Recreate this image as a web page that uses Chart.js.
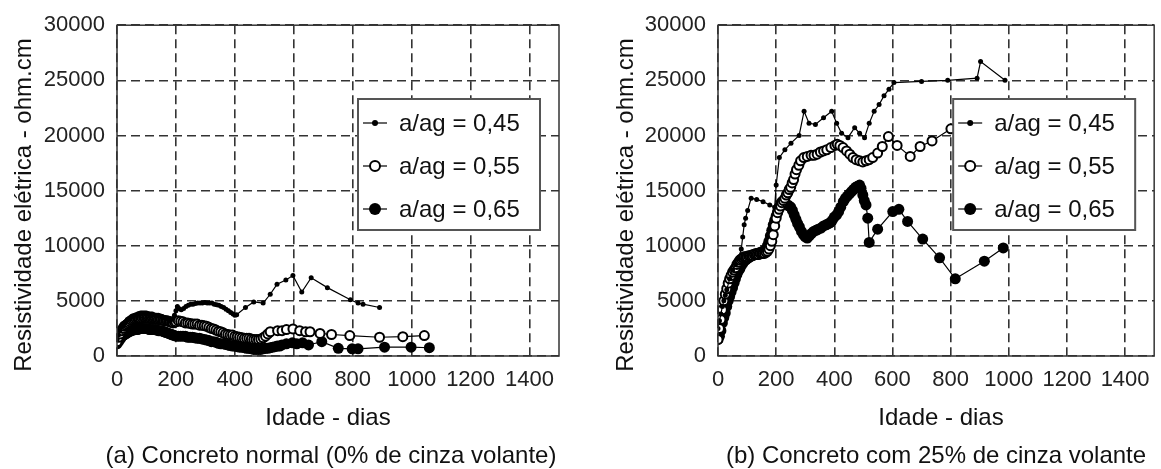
<!DOCTYPE html>
<html>
<head>
<meta charset="utf-8">
<script src="https://cdn.jsdelivr.net/npm/chart.js@4.4.1/dist/chart.umd.min.js"></script>
<style>
  body { margin: 0; background: #fff; }
  #wrap { position: relative; width: 1161px; height: 469px; background: #fff; overflow: hidden; }
  #boxA { position: absolute; left: 0; top: 0; }
  #boxB { position: absolute; left: 580px; top: 0; }
</style>
</head>
<body>
<div id="wrap">
  <div id="boxA"><canvas id="chartA" width="580" height="469"></canvas></div>
  <div id="boxB"><canvas id="chartB" width="581" height="469"></canvas></div>
</div>
<script>
// labels
const seriesLabels = ['a/ag = 0,45', 'a/ag = 0,55', 'a/ag = 0,65'];
const xTitle = 'Idade - dias';
const yTitle = 'Resistividade elétrica - ohm.cm';
const captionA = '(a) Concreto normal (0% de cinza volante)';
const captionB = '(b) Concreto com 25% de cinza volante';

// (a) concreto normal
const daysA45 = [0,5,10,15,20,25,30,35,40,45,
    50,55,60,65,70,75,80,85,90,95,
    100,105,110,115,120,125,130,135,140,145,
    150,155,160,165,170,175,180,185,190,195,
    200,205,210,218,226,234,242,250,258,266,
    274,282,290,298,306,314,322,330,338,346,
    354,362,370,378,386,394,400,406,436,464,
    496,520,543,573,597,627,659,714,792,818,
    835,891];
const resA45 = [1500,1900,2300,2600,2800,3000,3100,3300,3400,3500,
    3600,3650,3700,3750,3800,3850,3900,3900,3900,3900,
    3900,3850,3800,3800,3800,3750,3700,3700,3700,3650,
    3600,3550,3500,3450,3400,3350,3300,3300,3400,3700,
    4100,4500,4300,4200,4300,4500,4600,4700,4700,4750,
    4800,4800,4800,4850,4800,4800,4800,4700,4650,4600,
    4500,4400,4250,4100,3950,3800,3700,3750,4400,4900,
    4800,5600,6500,6900,7300,5800,7100,6200,5100,4800,
    4700,4400];

const daysA55 = [0,5,10,15,20,25,30,35,40,45,
    50,55,60,65,70,75,80,85,90,95,
    100,105,110,115,120,125,130,135,140,145,
    150,155,160,165,170,175,180,185,190,195,
    200,208,216,224,232,240,248,256,264,272,
    280,288,296,304,312,320,328,336,344,352,
    360,368,376,384,392,400,408,416,424,432,
    440,448,456,464,472,480,488,496,504,512,
    520,545,560,575,597,620,640,655,689,728,
    790,891,970,1043];
const resA55 = [1300,1700,2000,2300,2500,2700,2800,2900,3000,3100,
    3200,3250,3300,3350,3400,3400,3400,3450,3500,3500,
    3500,3450,3400,3400,3400,3400,3400,3350,3300,3300,
    3300,3250,3200,3200,3200,3150,3100,3050,3000,3050,
    3100,3200,3150,3100,3000,3000,2950,2900,2900,2900,
    2800,2800,2750,2700,2600,2500,2450,2350,2250,2200,
    2100,2000,1950,1900,1900,1800,1750,1700,1650,1600,
    1600,1600,1550,1500,1500,1500,1550,1650,1800,2000,
    2200,2300,2300,2400,2450,2300,2200,2200,2050,1950,
    1850,1700,1750,1850];

const daysA65 = [0,5,10,15,20,25,30,35,40,45,
    50,55,60,65,70,75,80,85,90,95,
    100,105,110,115,120,125,130,135,140,145,
    150,155,160,165,170,175,180,185,190,195,
    200,208,216,224,232,240,248,256,264,272,
    280,288,296,304,312,320,328,336,344,352,
    360,368,376,384,392,400,408,416,424,432,
    440,448,456,464,472,480,488,496,504,512,
    520,528,536,544,552,560,575,595,610,630,
    650,695,751,798,818,908,998,1060];
const resA65 = [1100,1300,1500,1700,1850,1950,2000,2100,2200,2250,
    2300,2350,2400,2400,2400,2450,2500,2500,2500,2500,
    2500,2450,2400,2400,2400,2400,2400,2350,2300,2300,
    2300,2250,2200,2150,2100,2050,2000,1950,1900,1850,
    1800,1800,1800,1800,1800,1700,1700,1700,1650,1600,
    1600,1550,1500,1450,1400,1300,1300,1250,1150,1100,
    1100,1050,1000,950,900,900,850,800,800,750,
    700,700,650,600,600,600,600,650,700,700,
    750,800,850,900,900,1000,1100,1200,1100,1200,
    1000,1300,700,650,650,800,800,750];

// (b) concreto com 25% de cinza volante
const daysB45 = [0,5,10,15,20,25,30,40,50,60,
    70,80,85,90,95,102,114,133,155,178,
    195,200,211,230,251,279,296,313,335,363,
    391,408,425,447,470,487,504,520,537,554,
    571,588,605,700,790,891,903,987];
const resB45 = [2500,3200,3800,4500,5000,5500,6000,7000,7800,8300,
    8800,9700,10800,11900,12500,13200,14300,14200,14000,13700,
    13500,15500,18000,18700,19300,20000,22200,21100,21000,21600,
    22200,21100,20200,19800,20700,20200,19800,21100,22200,22800,
    23600,24200,24800,24900,25000,25200,26700,25000];

const daysB55 = [0,5,10,15,20,25,30,35,40,45,
    50,55,60,65,70,75,80,85,90,95,
    100,105,110,115,120,125,130,135,140,145,
    150,155,160,165,170,175,180,185,190,195,
    200,205,210,215,220,225,230,235,240,245,
    250,255,260,265,270,278,284,295,307,320,
    330,341,352,363,374,388,402,410,419,430,
    442,453,464,475,487,498,509,520,532,549,
    565,586,616,661,695,736,801];
const resB55 = [1500,2500,3300,4200,5000,5600,6100,6600,7000,7300,
    7600,7800,8000,8300,8500,8700,8800,8900,9000,9000,
    9000,9100,9100,9100,9100,9200,9200,9200,9200,9300,
    9300,9300,9300,9400,9500,9700,10000,10400,11000,11800,
    12500,13000,13300,13600,13900,14100,14300,14600,14800,15100,
    15300,15700,16000,16500,16900,17300,17700,18000,18100,18200,
    18200,18300,18500,18600,18700,18900,19100,19200,19100,18900,
    18600,18300,18000,17800,17700,17600,17700,17800,18000,18400,
    19000,19900,19100,18100,19000,19500,20600];

const daysB65 = [0,5,10,15,20,25,30,35,40,45,
    50,55,60,65,70,75,80,85,90,95,
    100,105,110,115,120,125,130,135,140,145,
    150,155,160,165,170,175,180,185,190,195,
    200,205,210,215,220,225,230,235,240,245,
    250,256,262,268,274,280,287,294,300,307,
    314,321,329,337,345,354,363,372,380,386,
    393,400,408,415,422,431,438,445,452,459,
    466,473,480,487,492,498,503,509,515,520,
    549,601,622,652,704,762,816,916,981];
const resB65 = [1500,1800,2300,3000,3500,3900,4500,5000,5400,5800,
    6200,6600,7000,7400,7700,7900,8200,8400,8600,8700,
    8800,8900,9000,9100,9200,9200,9300,9300,9300,9400,
    9400,9500,9500,9700,10000,10400,10900,11400,11900,12300,
    12700,13100,13500,13800,14000,13900,13800,13700,13700,13600,
    13500,13200,12800,12400,12000,11700,11300,11000,10800,10700,
    10900,11100,11300,11400,11500,11600,11800,11900,12000,12100,
    12300,12600,12800,13100,13500,14000,14300,14500,14700,14900,
    15100,15300,15400,15500,15200,14600,14100,13700,12500,10300,
    11500,13100,13300,12200,10600,8900,7000,8600,9800];

Chart.defaults.font.family = '"Liberation Sans", Arial, sans-serif';
Chart.defaults.font.size = 22;
Chart.defaults.color = '#222';

function to_points(days, vals) {
    return days.map((d, i) => ({ x: d, y: vals[i] }));
}

// marker styles for the three series
const markerStyles = [
    { pointRadius: 2.5, pointBackgroundColor: '#000', pointBorderWidth: 0 },
    { pointRadius: 4.5, pointBackgroundColor: '#fff', pointBorderWidth: 2 },
    { pointRadius: 5.5, pointBackgroundColor: '#000', pointBorderWidth: 0 }
];

function make_dataset(i, days, vals) {
    return Object.assign({
        label: seriesLabels[i],
        data: to_points(days, vals),
        borderColor: '#000',
        pointBorderColor: '#000',
        borderWidth: 1.2,
        pointStyle: 'circle'
    }, markerStyles[i]);
}

// box round the plot area
const frame = {
    id: 'frame',
    afterDraw(chart) {
        const ctx = chart.ctx, a = chart.chartArea;
        ctx.save();
        ctx.strokeStyle = '#333';
        ctx.lineWidth = 1.5;
        ctx.strokeRect(a.left, a.top, a.right - a.left, a.bottom - a.top);
        ctx.restore();
    }
};

// legend inside the plot, drawn from the datasets
const legendBox = {
    id: 'legendBox',
    afterDraw(chart) {
        const ctx = chart.ctx, a = chart.chartArea;
        const w = 182, h = 131;
        const left = a.right - 19 - w, top = 99;
        ctx.save();
        ctx.fillStyle = '#fff';
        ctx.fillRect(left, top, w, h);
        ctx.strokeStyle = '#555';
        ctx.lineWidth = 2;
        ctx.strokeRect(left, top, w, h);
        ctx.font = '24px "Liberation Sans", Arial, sans-serif';
        ctx.textBaseline = 'middle';
        ctx.textAlign = 'left';
        chart.data.datasets.forEach((ds, i) => {
            const y = top + 24 + i * 43;
            ctx.strokeStyle = '#000';
            ctx.lineWidth = 1.2;
            ctx.beginPath();
            ctx.moveTo(left + 5, y);
            ctx.lineTo(left + 29, y);
            ctx.stroke();
            ctx.beginPath();
            ctx.arc(left + 17, y, ds.pointRadius + 0.5, 0, Math.PI * 2);
            ctx.fillStyle = ds.pointBackgroundColor;
            ctx.fill();
            if (ds.pointBorderWidth) {
                ctx.lineWidth = ds.pointBorderWidth;
                ctx.stroke();
            }
            ctx.fillStyle = '#111';
            ctx.fillText(ds.label, left + 41, y + 1);
        });
        ctx.restore();
    }
};

// axis titles and caption
const chartTexts = {
    id: 'chartTexts',
    afterDraw(chart, args, opts) {
        const ctx = chart.ctx;
        ctx.save();
        ctx.fillStyle = '#111';
        ctx.font = '24px "Liberation Sans", Arial, sans-serif';
        ctx.textAlign = 'center';
        ctx.textBaseline = 'alphabetic';
        ctx.fillText(xTitle, opts.xTitleX, 425);
        ctx.fillText(opts.caption, opts.captionX, 463);
        ctx.translate(opts.yTitleX, 205);
        ctx.rotate(-Math.PI / 2);
        ctx.fillText(yTitle, 0, 0);
        ctx.restore();
    }
};

function make_chart(canvasId, sets, yAxisWidth, texts) {
    const datasets = sets.map((s, i) => make_dataset(i, s[0], s[1]));
    return new Chart(document.getElementById(canvasId), {
        type: 'line',
        data: { datasets: datasets },
        plugins: [frame, legendBox, chartTexts],
        options: {
            responsive: false,
            animation: false,
            devicePixelRatio: 1,
            layout: { padding: { left: 0, right: texts.padRight, top: 25, bottom: 0 } },
            plugins: {
                legend: { display: false },
                tooltip: { enabled: false },
                chartTexts: texts
            },
            scales: {
                x: {
                    type: 'linear',
                    min: 0,
                    max: 1500,
                    ticks: { stepSize: 200, includeBounds: false, padding: 11, maxRotation: 0,
                             callback: v => String(v) },
                    grid: { color: '#333', lineWidth: 1.6, drawTicks: false },
                    border: { display: false, dash: [9, 5] },
                    afterFit: s => { s.height = 113; }
                },
                y: {
                    min: 0,
                    max: 30000,
                    ticks: { stepSize: 5000, padding: 12, callback: v => String(v) },
                    grid: { color: '#333', lineWidth: 1.6, drawTicks: false },
                    border: { display: false, dash: [9, 5] },
                    afterFit: s => { s.width = yAxisWidth; }
                }
            }
        }
    });
}

make_chart('chartA', [[daysA45, resA45], [daysA55, resA55], [daysA65, resA65]], 117,
    { caption: captionA, xTitleX: 328, captionX: 331, yTitleX: 31, padRight: 21 });
make_chart('chartB', [[daysB45, resB45], [daysB55, resB55], [daysB65, resB65]], 138,
    { caption: captionB, xTitleX: 361, captionX: 356, yTitleX: 53, padRight: 0 });
</script>
</body>
</html>
